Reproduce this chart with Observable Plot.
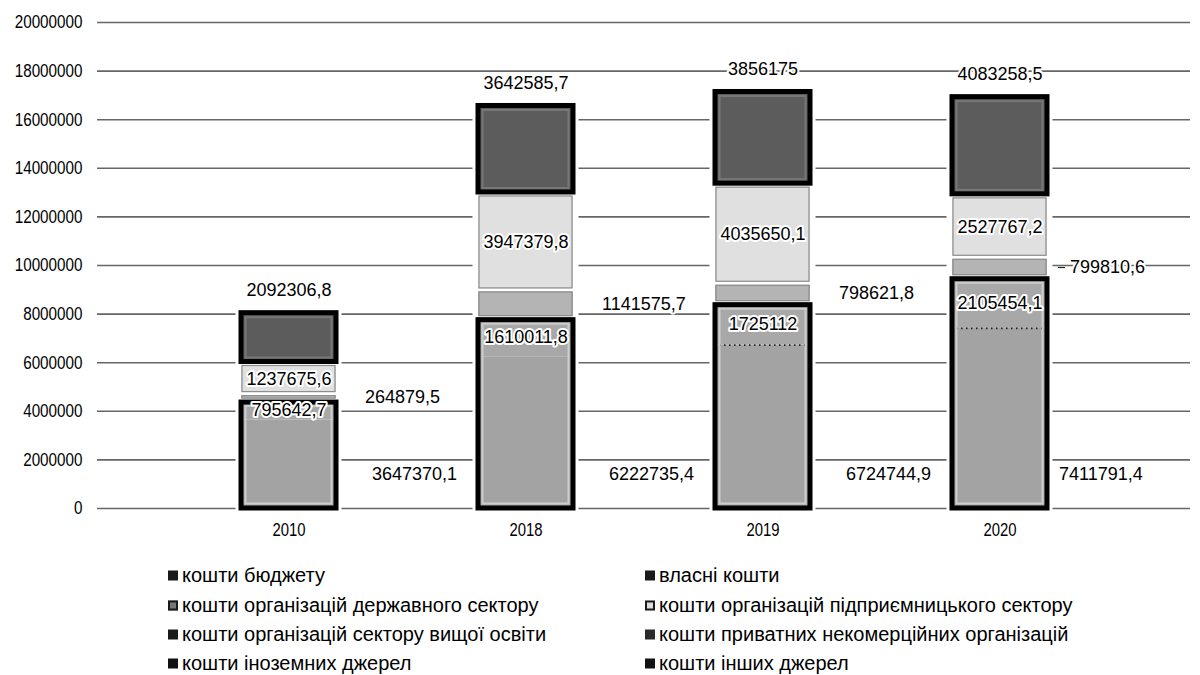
<!DOCTYPE html>
<html>
<head>
<meta charset="utf-8">
<script src="https://cdn.jsdelivr.net/npm/d3@7"></script>
<script src="https://cdn.jsdelivr.net/npm/@observablehq/plot@0.6"></script>
<style>
  html, body { margin: 0; padding: 0; background: #fff; }
  #wrap { position: relative; width: 1200px; height: 675px; overflow: hidden; font-family: "Liberation Sans", Arial, sans-serif; }
  #legend { position: absolute; left: 0; top: 0; width: 1200px; height: 675px; pointer-events: none; }
  .item { position: absolute; display: flex; align-items: center; font-size: 20px; color: #000; white-space: nowrap; transform: translateY(-50%); }
  .sw { width: 10px; height: 10px; margin-right: 4px; box-sizing: border-box; }
</style>
</head>
<body>
<div id="wrap"><div id="chart"></div><div id="legend"></div></div>
<script>
// ---- data ----
const years = ["2010", "2018", "2019", "2020"];
const seriesNames = [
  "кошти бюджету",
  "власні кошти",
  "кошти організацій державного сектору",
  "кошти організацій підприємницького сектору",
  "кошти організацій сектору вищої освіти",
  "кошти приватних некомерційних організацій",
  "кошти іноземних джерел",
  "кошти інших джерел"
];
const budget = [3647370.1, 6222735.4, 6724744.9, 7411791.4];
const ownFunds = [795642.7, 1610011.8, 1725112, 2105454.1];
const stateSector = [264879.5, 1141575.7, 798621.8, 799810.6];
const businessSector = [1237675.6, 3947379.8, 4035650.1, 2527767.2];
const foreignSources = [2092306.8, 3642585.7, 3856175, 4083258.5];
const yTicks = [0, 2000000, 4000000, 6000000, 8000000, 10000000, 12000000, 14000000, 16000000, 18000000, 20000000];

const seriesColors = ["#a3a3a3", "#a8a8a8", "#b4b4b4", "#e0e0e0", "#cfcfcf", "#8c8c8c", "#5c5c5c", "#444444"];

// ---- build stacked table ----
const stackedSeries = [
  {name: seriesNames[0], values: budget, kind: "budget"},
  {name: seriesNames[1], values: ownFunds, kind: "own"},
  {name: seriesNames[2], values: stateSector, kind: "state"},
  {name: seriesNames[3], values: businessSector, kind: "business"},
  {name: seriesNames[6], values: foreignSources, kind: "foreign"}
];
const segs = [];
const totals = [];
const lowerBox = [];
years.forEach((yr, i) => {
  let acc = 0;
  stackedSeries.forEach(s => {
    const v = s.values[i];
    segs.push({year: yr, series: s.name, kind: s.kind, value: v, y1: acc, y2: acc + v, mid: acc + v / 2});
    acc += v;
  });
  totals.push({year: yr, total: acc});
  lowerBox.push({year: yr, y1: 0, y2: budget[i] + ownFunds[i], budget: budget[i]});
});
const fmt = v => String(v).replace(".", ",");
const font = '"Liberation Sans", Arial, sans-serif';

const lastYear = years[years.length - 1];
const labelBase = {x: "year", text: d => fmt(d.value), fontSize: 18, fill: "#000", stroke: "white", strokeWidth: 4, fontFamily: font};
const isLower = d => d.kind === "budget" || d.kind === "own";

const chart = Plot.plot({
  width: 1200,
  height: 550,
  marginLeft: 97,
  marginRight: 10,
  marginTop: 22,
  marginBottom: 42,
  style: {fontFamily: font, fontSize: "18.6px", color: "#000", background: "white"},
  x: {domain: years, padding: 0.6, label: null},
  y: {domain: [0, 20000000], label: null},
  color: {domain: seriesNames, range: seriesColors},
  marks: [
    Plot.ruleY(yTicks, {stroke: "#666", strokeWidth: 1.6}),
    Plot.axisY({ticks: yTicks, tickSize: 0, tickPadding: 15, tickFormat: d3.format("d"), label: null, fontSize: 18.6}),
    Plot.axisX({tickSize: 0, tickPadding: 14, label: null, fontSize: 18.6}),
    // white halo behind bars
    Plot.barY(totals, {x: "year", y: "total", fill: "white", stroke: "white", strokeWidth: 11}),
    // segment fills
    Plot.barY(segs.filter(isLower), {x: "year", y1: "y1", y2: "y2", fill: "series"}),
    Plot.barY(segs.filter(d => !isLower(d)), {x: "year", y1: "y1", y2: "y2", fill: "series", insetTop: 1.5, insetBottom: 1.5}),
    // thin borders for light segments
    Plot.barY(segs.filter(d => d.kind === "state" || d.kind === "business"), {x: "year", y1: "y1", y2: "y2", fill: "none", stroke: "#8d8d8d", strokeWidth: 1.2, insetTop: 2, insetBottom: 2, insetLeft: 1, insetRight: 1}),
    // dotted boundary between budget and own funds
    Plot.tickY(lowerBox.filter(d => d.year >= "2019"), {x: "year", y: "budget", stroke: "#222", strokeWidth: 1.6, strokeDasharray: "1.5,3.5", inset: 4}),
    // inner rim of heavy boxes
    Plot.barY(lowerBox, {x: "year", y1: "y1", y2: "y2", fill: "none", stroke: "#cdcdcd", strokeWidth: 2, inset: 4.5, insetTop: 6, insetBottom: 4.5}),
    Plot.barY(segs.filter(d => d.kind === "foreign"), {x: "year", y1: "y1", y2: "y2", fill: "none", stroke: "#777", strokeWidth: 2, inset: 4.5, insetBottom: 6}),
    // heavy black borders
    Plot.barY(lowerBox, {x: "year", y1: "y1", y2: "y2", fill: "none", stroke: "black", strokeWidth: 5, insetTop: 2}),
    Plot.barY(segs.filter(d => d.kind === "foreign"), {x: "year", y1: "y1", y2: "y2", fill: "none", stroke: "black", strokeWidth: 5, insetBottom: 2}),
    // labels inside (own funds, business sector)
    Plot.text(segs.filter(d => d.kind === "own" || d.kind === "business"), {...labelBase, y: "mid"}),
    // foreign: above the bar
    Plot.text(segs.filter(d => d.kind === "foreign"), {...labelBase, y: "y2", dy: -23}),
    // state sector: to the right of the bar
    Plot.text(segs.filter(d => d.kind === "state" && d.year !== lastYear), {...labelBase, y: "mid", textAnchor: "start", dx: 76}),
    Plot.text(segs.filter(d => d.kind === "state" && d.year === lastYear), {...labelBase, y: "mid", textAnchor: "start", dx: 70}),
    Plot.tickY(segs.filter(d => d.kind === "state" && d.year === lastYear), {x: "year", y: "mid", stroke: "#222", strokeWidth: 1.2, insetLeft: 113, insetRight: -11}),
    // budget: to the right, near base
    Plot.text(segs.filter(d => d.kind === "budget" && d.year !== lastYear), {...labelBase, y: "y1", dy: -34, textAnchor: "start", dx: 83}),
    Plot.text(segs.filter(d => d.kind === "budget" && d.year === lastYear), {...labelBase, y: "y1", dy: -34, textAnchor: "start", dx: 59})
  ]
});
document.getElementById("chart").appendChild(chart);

// condense axis tick labels horizontally (reference uses a narrow face)
function condense(sel, s) {
  d3.select(chart).selectAll(sel).each(function () {
    const t = this.getAttribute("transform");
    if (t && t.includes("translate")) {
      this.setAttribute("transform", t + ` scale(${s},1)`);
    } else {
      const x = +(this.getAttribute("x") || 0);
      this.setAttribute("transform", `translate(${x},0) scale(${s},1) translate(${-x},0)`);
    }
  });
}
condense('g[aria-label="y-axis tick label"] text', 0.82);
condense('g[aria-label="x-axis tick label"] text', 0.8);

// ---- legend ----
const legendCols = [168, 645];
const legendRows = [575, 605, 634, 663];
const swatchStyles = [
  "background:#1a1a1a",
  "background:#1a1a1a",
  "background:#777; border:2px solid #1a1a1a",
  "background:#ddd; border:2px solid #1a1a1a",
  "background:#1a1a1a",
  "background:#2a2a2a",
  "background:#111",
  "background:#111"
];
const legend = document.getElementById("legend");
seriesNames.forEach((name, i) => {
  const el = document.createElement("div");
  el.className = "item";
  el.style.left = legendCols[i % 2] + "px";
  el.style.top = legendRows[Math.floor(i / 2)] + "px";
  el.innerHTML = `<span class="sw" style="${swatchStyles[i]}"></span><span>${name}</span>`;
  legend.appendChild(el);
});
</script>
</body>
</html>
